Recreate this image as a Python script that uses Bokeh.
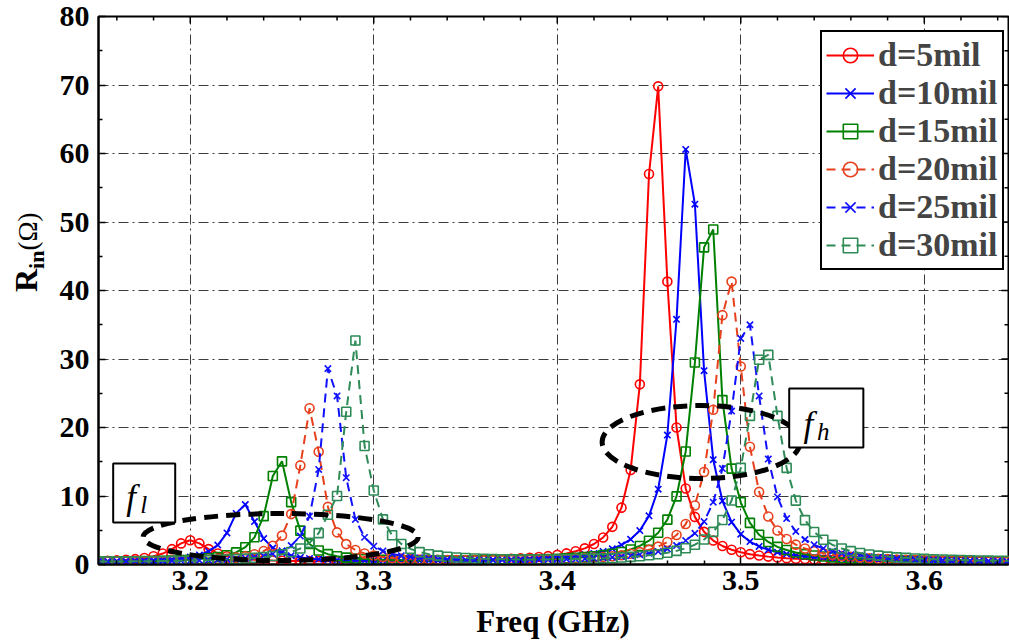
from bokeh.plotting import figure
from bokeh.models import FixedTicker, Range1d, Legend, LegendItem, Label, Div
from bokeh.layouts import row, column
from bokeh.embed import file_html
from bokeh.resources import INLINE

# ---------------- data ----------------
freq = [3.150, 3.155, 3.160, 3.165, 3.170, 3.175, 3.180, 3.185, 3.190, 3.195,
        3.200, 3.205, 3.210, 3.215, 3.220, 3.225, 3.230, 3.235, 3.240, 3.245,
        3.250, 3.255, 3.260, 3.265, 3.270, 3.275, 3.280, 3.285, 3.290, 3.295,
        3.300, 3.305, 3.310, 3.315, 3.320, 3.325, 3.330, 3.335, 3.340, 3.345,
        3.350, 3.355, 3.360, 3.365, 3.370, 3.375, 3.380, 3.385, 3.390, 3.395,
        3.400, 3.405, 3.410, 3.415, 3.420, 3.425, 3.430, 3.435, 3.440, 3.445,
        3.450, 3.455, 3.460, 3.465, 3.470, 3.475, 3.480, 3.485, 3.490, 3.495,
        3.500, 3.505, 3.510, 3.515, 3.520, 3.525, 3.530, 3.535, 3.540, 3.545,
        3.550, 3.555, 3.560, 3.565, 3.570, 3.575, 3.580, 3.585, 3.590, 3.595,
        3.600, 3.605, 3.610, 3.615, 3.620, 3.625, 3.630, 3.635, 3.640, 3.645,
        3.650]

rin_d5 = [0.51, 0.55, 0.60, 0.68, 0.78, 0.95, 1.20, 1.60, 2.24, 3.08,
          3.55, 3.08, 2.25, 1.61, 1.21, 0.96, 0.80, 0.70, 0.63, 0.58,
          0.55, 0.52, 0.51, 0.50, 0.49, 0.48, 0.48, 0.47, 0.48, 0.48,
          0.48, 0.49, 0.49, 0.50, 0.51, 0.52, 0.54, 0.56, 0.57, 0.59,
          0.62, 0.65, 0.68, 0.72, 0.77, 0.83, 0.90, 0.98, 1.09, 1.22,
          1.40, 1.62, 1.93, 2.36, 2.99, 3.95, 5.5, 8.3, 13.8, 26.3,
          57.0, 69.8, 41.3, 20.0, 11.1, 6.95, 4.77, 3.5, 2.7, 2.16,
          1.79, 1.51, 1.31, 1.15, 1.03, 0.93, 0.85, 0.79, 0.73, 0.69,
          0.65, 0.62, 0.58, 0.56, 0.54, 0.52, 0.50, 0.49, 0.47, 0.46,
          0.45, 0.44, 0.43, 0.42, 0.42, 0.41, 0.40, 0.40, 0.39, 0.39, 0.38]

rin_d10 = [0.44, 0.46, 0.48, 0.50, 0.53, 0.57, 0.62, 0.69, 0.78, 0.91,
           1.10, 1.40, 1.91, 2.84, 4.61, 7.46, 8.76, 6.26, 3.78, 2.41,
           1.69, 1.29, 1.04, 0.88, 0.78, 0.70, 0.66, 0.61, 0.59, 0.57,
           0.56, 0.55, 0.54, 0.54, 0.53, 0.54, 0.54, 0.55, 0.56, 0.57,
           0.59, 0.60, 0.62, 0.65, 0.68, 0.71, 0.75, 0.80, 0.86, 0.93,
           1.00, 1.11, 1.24, 1.41, 1.62, 1.91, 2.30, 2.86, 3.68, 4.95,
           7.10, 11.0, 18.9, 35.8, 60.6, 52.6, 28.3, 15.3, 9.28, 6.18,
           4.42, 3.34, 2.63, 2.14, 1.79, 1.53, 1.33, 1.18, 1.06, 0.96,
           0.88, 0.81, 0.76, 0.71, 0.67, 0.64, 0.61, 0.58, 0.56, 0.54,
           0.52, 0.50, 0.49, 0.48, 0.47, 0.46, 0.45, 0.44, 0.435, 0.43, 0.42]

rin_d15 = [0.42, 0.43, 0.44, 0.46, 0.47, 0.49, 0.52, 0.55, 0.59, 0.64,
           0.70, 0.79, 0.91, 1.08, 1.34, 1.77, 2.52, 3.97, 7.06, 12.92,
           15.06, 9.11, 4.94, 2.99, 2.04, 1.51, 1.20, 1.01, 0.87, 0.79,
           0.72, 0.68, 0.64, 0.62, 0.60, 0.59, 0.58, 0.57, 0.57, 0.58,
           0.58, 0.59, 0.60, 0.61, 0.63, 0.65, 0.68, 0.71, 0.75, 0.79,
           0.84, 0.91, 0.99, 1.09, 1.21, 1.37, 1.57, 1.83, 2.20, 2.71,
           3.47, 4.63, 6.55, 9.94, 16.5, 29.5, 46.3, 48.9, 24.0, 14.0,
           9.08, 6.07, 4.34, 3.29, 2.58, 2.11, 1.76, 1.51, 1.31, 1.16,
           1.04, 0.95, 0.87, 0.80, 0.75, 0.70, 0.66, 0.63, 0.60, 0.58,
           0.55, 0.53, 0.52, 0.50, 0.49, 0.47, 0.46, 0.45, 0.45, 0.44, 0.43]

rin_d20 = [0.41, 0.42, 0.43, 0.44, 0.46, 0.47, 0.49, 0.51, 0.54, 0.56,
           0.60, 0.64, 0.70, 0.78, 0.88, 1.01, 1.20, 1.50, 1.96, 2.74,
           4.22, 7.36, 14.47, 22.8, 16.47, 8.41, 4.69, 2.98, 2.11, 1.60,
           1.30, 1.09, 0.96, 0.86, 0.79, 0.74, 0.70, 0.67, 0.65, 0.64,
           0.63, 0.63, 0.63, 0.63, 0.64, 0.65, 0.66, 0.68, 0.71, 0.74,
           0.77, 0.81, 0.86, 0.93, 1.00, 1.10, 1.21, 1.36, 1.56, 1.81,
           2.14, 2.61, 3.29, 4.30, 5.91, 8.62, 13.5, 22.6, 36.4, 41.3,
           28.9, 17.2, 10.6, 7.0, 4.96, 3.72, 2.90, 2.34, 1.94, 1.65,
           1.42, 1.25, 1.12, 1.01, 0.92, 0.85, 0.79, 0.74, 0.70, 0.66,
           0.63, 0.60, 0.58, 0.56, 0.54, 0.52, 0.50, 0.49, 0.48, 0.47, 0.46]

rin_d25 = [0.41, 0.42, 0.43, 0.43, 0.45, 0.46, 0.47, 0.49, 0.51, 0.53,
           0.56, 0.59, 0.63, 0.68, 0.74, 0.82, 0.92, 1.06, 1.26, 1.55,
           2.00, 2.76, 4.15, 7.04, 13.87, 28.6, 24.6, 12.68, 6.58, 3.96,
           2.68, 1.98, 1.55, 1.28, 1.10, 0.97, 0.88, 0.81, 0.76, 0.73,
           0.70, 0.68, 0.67, 0.66, 0.66, 0.66, 0.67, 0.68, 0.69, 0.71,
           0.74, 0.77, 0.80, 0.85, 0.90, 0.97, 1.05, 1.15, 1.27, 1.43,
           1.63, 1.90, 2.27, 2.77, 3.49, 4.56, 6.26, 9.09, 14.0, 22.4,
           33.0, 35.0, 24.6, 15.4, 9.86, 6.70, 4.83, 3.65, 2.87, 2.34,
           1.95, 1.66, 1.44, 1.27, 1.14, 1.03, 0.94, 0.87, 0.81, 0.76,
           0.71, 0.68, 0.64, 0.61, 0.58, 0.56, 0.54, 0.52, 0.51, 0.49, 0.48]

rin_d30 = [0.42, 0.43, 0.44, 0.45, 0.46, 0.47, 0.49, 0.50, 0.52, 0.54,
           0.57, 0.60, 0.63, 0.67, 0.72, 0.78, 0.86, 0.96, 1.08, 1.25,
           1.50, 1.83, 2.34, 3.16, 4.58, 7.27, 10.0, 22.3, 32.7, 17.3,
           10.8, 6.59, 4.26, 3.00, 2.28, 1.81, 1.50, 1.29, 1.14, 1.02,
           0.94, 0.88, 0.83, 0.80, 0.77, 0.75, 0.74, 0.74, 0.74, 0.74,
           0.75, 0.77, 0.80, 0.82, 0.86, 0.90, 0.95, 1.02, 1.11, 1.21,
           1.34, 1.50, 1.71, 1.99, 2.37, 2.89, 3.64, 4.76, 6.50, 9.34,
           14.1, 21.7, 29.9, 30.6, 21.7, 14.1, 9.33, 6.48, 4.74, 3.62,
           2.87, 2.34, 1.95, 1.67, 1.45, 1.29, 1.15, 1.04, 0.96, 0.88,
           0.82, 0.77, 0.72, 0.68, 0.65, 0.62, 0.59, 0.57, 0.55, 0.53, 0.52]

series_labels = ["d=5mil", "d=10mil", "d=15mil", "d=20mil", "d=25mil", "d=30mil"]
series_values = [rin_d5, rin_d10, rin_d15, rin_d20, rin_d25, rin_d30]

x_ticks = [3.2, 3.3, 3.4, 3.5, 3.6]
x_tick_labels = ["3.2", "3.3", "3.4", "3.5", "3.6"]
x_minor = [3.16, 3.18, 3.22, 3.24, 3.26, 3.28, 3.32, 3.34, 3.36, 3.38,
           3.42, 3.44, 3.46, 3.48, 3.52, 3.54, 3.56, 3.58, 3.62, 3.64]
y_ticks = [0, 10, 20, 30, 40, 50, 60, 70, 80]
y_minor = [5, 15, 25, 35, 45, 55, 65, 75]

# ---------------- styles ----------------
colors = ["#ff0000", "#0000ff", "#008000", "#e8401c", "#1010ff", "#2e8b57"]
markers = ["circle", "x", "square", "circle", "x", "square"]
dashes = ["solid", "solid", "solid", "9 6", "9 6", "9 6"]
SERIF = "Liberation Serif"
X0, X1, Y0, Y1 = 3.15, 3.6459, 0.0, 80.0
PX_PER_X = 1835.0   # screen px per GHz
PX_PER_Y = 6.85     # screen px per ohm
LEFT_W = 50         # width of the y-title strip
PLOT_H = 606        # height of the plot (x-title strip below it)
TITLE_H = 642 - PLOT_H

p = figure(width=1009 - LEFT_W, height=PLOT_H, output_backend="svg", toolbar_location=None,
           x_range=Range1d(X0, X1), y_range=Range1d(Y0, Y1),
           min_border_left=98 - LEFT_W, min_border_right=1, min_border_top=16,
           min_border_bottom=PLOT_H - 564, background_fill_color="white",
           border_fill_color="white")
p.outline_line_color = "black"
p.outline_line_width = 2

xt = FixedTicker(ticks=x_ticks, minor_ticks=x_minor)
yt = FixedTicker(ticks=y_ticks, minor_ticks=y_minor)

for ax in (p.xaxis[0], p.yaxis[0]):
    ax.axis_line_color = "black"
    ax.axis_line_width = 2
    ax.major_tick_in = 7
    ax.major_tick_out = 0
    ax.minor_tick_in = 4
    ax.minor_tick_out = 0
    ax.major_tick_line_width = 1.5
    ax.minor_tick_line_width = 1.5
    ax.major_tick_line_color = "black"
    ax.minor_tick_line_color = "black"
    ax.major_label_text_font = SERIF
    ax.major_label_text_font_style = "bold"
    ax.major_label_text_font_size = "30px"
    ax.major_label_text_color = "black"

p.xaxis.ticker = xt
p.xaxis.major_label_overrides = dict(zip(x_ticks, x_tick_labels))
p.yaxis.ticker = yt
p.xaxis.major_label_standoff = 6
p.yaxis.major_label_standoff = 9

# inward ticks on the top and right edges of the box
tx = x_ticks + x_minor
tlen = [7.0 / PX_PER_Y] * len(x_ticks) + [4.0 / PX_PER_Y] * len(x_minor)
p.segment(x0=tx, y0=[Y1] * len(tx), x1=tx, y1=[Y1 - d for d in tlen],
          line_color="black", line_width=1.5)
ty = y_ticks + y_minor
rlen = [7.0 / PX_PER_X] * len(y_ticks) + [4.0 / PX_PER_X] * len(y_minor)
p.segment(x0=[X1] * len(ty), y0=ty, x1=[X1 - d for d in rlen], y1=ty,
          line_color="black", line_width=1.5)

p.xgrid.ticker = xt
p.ygrid.ticker = yt
p.grid.grid_line_color = "#3c3c3c"
p.grid.grid_line_dash = "10 4 2 4"
p.grid.grid_line_width = 1

items = []
for lab, vals, col, mk, dash in zip(series_labels, series_values, colors, markers, dashes):
    lr = p.line(freq, vals, line_color=col, line_width=2, line_dash=dash)
    sr = p.scatter(freq, vals, marker=mk, size=9, line_color=col, fill_color=None,
                   line_width=1.6)
    items.append(LegendItem(label=lab, renderers=[lr, sr]))

# ---------------- annotations (ellipses and labelled boxes) ----------------
p.ellipse(x=[3.2493], y=[4.01], width=[0.1499], height=[6.86], fill_color=None,
          line_color="black", line_width=5, line_dash="14 8")
p.ellipse(x=[3.4784], y=[17.88], width=[0.1079], height=[10.66], fill_color=None,
          line_color="black", line_width=5, line_dash="14 8")
p.quad(left=[3.158], right=[3.1918], bottom=[6.13], top=[14.74], fill_color="white",
       line_color="black", line_width=2)
p.quad(left=[3.5264], right=[3.5668], bottom=[17.08], top=[25.69], fill_color="white",
       line_color="black", line_width=2)

def add_label(x, y, text, size, style="normal"):
    p.add_layout(Label(x=x, y=y, text=text, text_font=SERIF, text_font_size=size,
                       text_font_style=style, text_align="left",
                       text_baseline="alphabetic", text_color="black"))

add_label(3.1651, 9.75, "f", "35px", "italic")
add_label(3.1727, 8.75, "l", "25px", "italic")
add_label(3.5342, 20.40, "f", "35px", "italic")
add_label(3.5415, 19.40, "h", "25px", "italic")

legend = Legend(items=items, location=(722, 294))
legend.border_line_color = "black"
legend.border_line_alpha = 1
legend.border_line_width = 2
legend.background_fill_color = "white"
legend.background_fill_alpha = 1
legend.label_text_font = SERIF
legend.label_text_font_style = "bold"
legend.label_text_font_size = "34px"
legend.glyph_width = 48
legend.glyph_height = 36
legend.label_height = 36
legend.label_standoff = 4
legend.spacing = 0
legend.padding = 4
legend.margin = 0
p.add_layout(legend)

# y-axis title  R_in(Ω)  drawn as rotated real text in a narrow strip
ytitle_html = (
    '<div style="position:relative;width:%dpx;height:%dpx;">'
    '<div style="position:absolute;left:10px;top:292px;transform-origin:0 0;'
    'transform:rotate(-90deg);white-space:nowrap;line-height:1;color:black;'
    "font-family:'Liberation Serif';font-weight:bold;font-size:32px;\">"
    'R<span style="font-size:22px;vertical-align:-7px;">in</span>'
    '<span style="font-weight:normal;font-size:27px;">(\u03a9)</span>'
    '</div></div>' % (LEFT_W, PLOT_H))
ytitle = Div(text=ytitle_html, width=LEFT_W, height=PLOT_H, margin=(0, 0, 0, 0))

# x-axis title below the plot, centred under the frame
xtitle_html = (
    '<div style="position:relative;width:1009px;height:%dpx;">'
    '<div style="position:absolute;left:553px;top:0px;transform:translateX(-50%%);'
    'white-space:nowrap;line-height:1;color:black;'
    "font-family:'Liberation Serif';font-weight:bold;font-size:31px;\">"
    'Freq (GHz)</div></div>' % TITLE_H)
xtitle = Div(text=xtitle_html, width=1009, height=TITLE_H, margin=(0, 0, 0, 0))

layout = column(row(ytitle, p, spacing=0), xtitle, spacing=0)
open("out.html", "w").write(file_html(layout, INLINE))
